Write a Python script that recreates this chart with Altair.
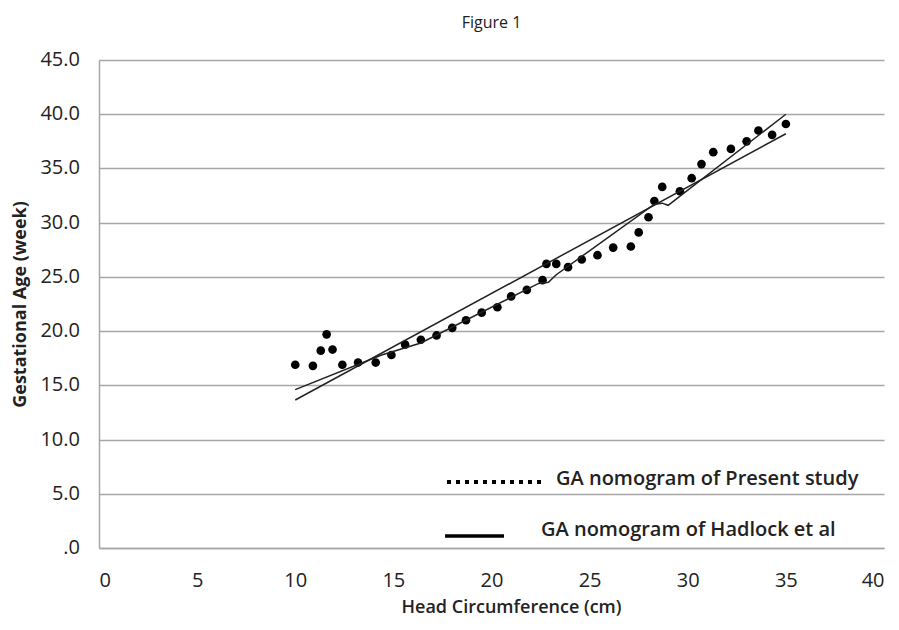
import altair as alt
import pandas as pd

# Present study: mean GA per head circumference
hc_points = [10.0, 10.9, 11.3, 11.6, 11.9, 12.4, 13.2, 14.1, 14.9, 15.6, 16.4, 17.2, 18.0, 18.7,
             19.5, 20.3, 21.0, 21.8, 22.6, 22.8, 23.3, 23.9, 24.6, 25.4, 26.2, 27.1, 27.5, 28.0,
             28.3, 28.7, 29.6, 30.2, 30.7, 31.3, 32.2, 33.0, 33.6, 34.3, 35.0]
ga_points = [16.9, 16.8, 18.2, 19.7, 18.3, 16.9, 17.1, 17.1, 17.8, 18.75, 19.2, 19.6, 20.3, 21.0,
             21.7, 22.2, 23.2, 23.8, 24.7, 26.2, 26.2, 25.9, 26.6, 27.0, 27.7, 27.8, 29.1, 30.5,
             32.0, 33.3, 32.9, 34.1, 35.4, 36.5, 36.8, 37.5, 38.5, 38.1, 39.1]

# straight trend line
hc_trend = [10.0, 35.0]
ga_trend = [13.65, 38.2]

# Hadlock curve (polyline)
hc_hadlock = [10.0, 14.4, 16.4, 22.4, 22.9, 23.3, 28.3, 28.7, 29.0, 35.0]
ga_hadlock = [14.6, 17.8, 18.9, 24.4, 24.5, 25.2, 31.7, 31.8, 31.6, 40.0]

legend_labels = ["GA nomogram of Present study", "GA nomogram of Hadlock et al"]

x_ticks = list(range(0, 41, 5))
y_ticks = list(range(0, 46, 5))
y_tick_labels = [".0"] + [f"{v:.1f}" for v in y_ticks[1:]]

FONT = "Open Sans"
GRID = "#a6a6a6"
LABEL_SIZE = 20

pts = pd.DataFrame({"hc": hc_points, "ga": ga_points})
trend = pd.DataFrame({"hc": hc_trend, "ga": ga_trend})
had = pd.DataFrame({"hc": hc_hadlock, "ga": ga_hadlock, "order": list(range(len(hc_hadlock)))})
ylab = pd.DataFrame({"ga": y_ticks, "label": y_tick_labels})

xscale = alt.Scale(domain=[0, 40], nice=False, zero=False)
yscale = alt.Scale(domain=[0, 45], nice=False, zero=False)

points = alt.Chart(pts).mark_circle(size=75, color="black", opacity=1).encode(
    x=alt.X("hc:Q", scale=xscale,
            axis=alt.Axis(title="Head Circumference (cm)", values=x_ticks, grid=False,
                          ticks=False, domain=True, domainColor=GRID, domainWidth=1.5,
                          labelPadding=22, labelFontSize=LABEL_SIZE, labelFont=FONT,
                          labelColor="#222",
                          titleFont=FONT, titleFontSize=18, titleFontWeight=600,
                          titleColor="#222", titleX=412, titleY=59, titleBaseline="middle")),
    y=alt.Y("ga:Q", scale=yscale,
            axis=alt.Axis(title="Gestational Age (week)", values=y_ticks, grid=True,
                          gridColor=GRID, gridWidth=1.5, ticks=False, domain=True,
                          domainColor=GRID, domainWidth=1.5, labels=False,
                          titleFont=FONT, titleFontSize=18, titleFontWeight="bold",
                          titleColor="#222", titleX=-79, titleY=244,
                          titleBaseline="middle", titleAngle=270)),
)

ylabels = alt.Chart(ylab).mark_text(align="right", baseline="middle", font=FONT,
                                    fontSize=LABEL_SIZE, color="#222").encode(
    x=alt.value(-19),
    y=alt.Y("ga:Q", scale=yscale),
    text="label:N",
)

trend_line = alt.Chart(trend).mark_line(color="#222", strokeWidth=1.5).encode(
    x=alt.X("hc:Q", scale=xscale),
    y=alt.Y("ga:Q", scale=yscale),
)

had_line = alt.Chart(had).mark_line(color="#222", strokeWidth=1.5).encode(
    x=alt.X("hc:Q", scale=xscale),
    y=alt.Y("ga:Q", scale=yscale),
    order="order:Q",
)

one = pd.DataFrame({"k": [0]})
leg_dot = alt.Chart(one).mark_rule(color="black", strokeWidth=4, strokeDash=[4, 5]).encode(
    x=alt.value(348), x2=alt.value(446), y=alt.value(422))
leg_solid = alt.Chart(one).mark_rule(color="black", strokeWidth=3.5).encode(
    x=alt.value(346), x2=alt.value(405), y=alt.value(476))
leg_text1 = alt.Chart(one).mark_text(align="left", baseline="middle", font=FONT, fontSize=20,
                                     fontWeight=600, color="#222").encode(
    x=alt.value(457), y=alt.value(419), text=alt.value(legend_labels[0]))
leg_text2 = alt.Chart(one).mark_text(align="left", baseline="middle", font=FONT, fontSize=20,
                                     fontWeight=600, color="#222").encode(
    x=alt.value(442), y=alt.value(470), text=alt.value(legend_labels[1]))

chart = alt.layer(points, ylabels, trend_line, had_line, leg_dot, leg_solid,
                  leg_text1, leg_text2).properties(
    width=785, height=488,
    background="white",
    title=alt.TitleParams("Figure 1", font=FONT, fontSize=16, fontWeight="normal",
                          color="#222", anchor="middle", offset=19),
    autosize=alt.AutoSizeParams(type="none"),
    padding={"left": 91, "top": 52, "right": 7, "bottom": 70},
).configure_view(stroke=None)

chart.save("out.html", embed_options={"renderer": "svg", "actions": False})
